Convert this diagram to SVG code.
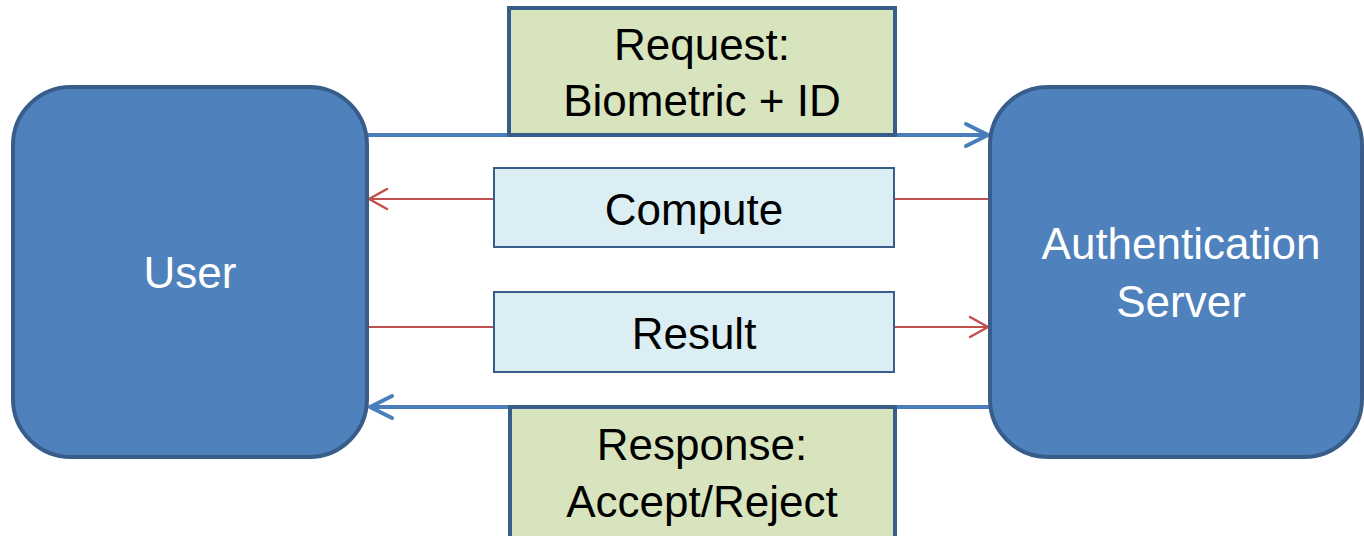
<svg xmlns="http://www.w3.org/2000/svg" width="1364" height="536" viewBox="0 0 1364 536">
  <style>
    .endpoint { fill: #4f81bd; stroke: #385d8a; stroke-width: 4; }
    .msg { fill: #d7e4bd; stroke: #385d8a; stroke-width: 4; }
    .step { fill: #dbeef4; stroke: #385d8a; stroke-width: 2; }
    .txt { font-family: "Liberation Sans", Arial, sans-serif; font-size: 44px; text-anchor: middle; fill: #000; }
    .wtxt { font-family: "Liberation Sans", Arial, sans-serif; font-size: 44px; text-anchor: middle; fill: #fff; }
    .blue { stroke: #4a7ebb; stroke-width: 4; fill: none; }
    .red { stroke: #c0504d; stroke-width: 2; fill: none; }
  </style>
  <defs>
    <marker id="headBlue" markerUnits="userSpaceOnUse" viewBox="-26 -14 30 28" refX="0" refY="0" markerWidth="30" markerHeight="28" orient="auto" overflow="visible">
      <path d="M-22,-11 L0,0 L-22,11" fill="none" stroke="#4a7ebb" stroke-width="4" stroke-linecap="round" stroke-linejoin="round"/>
    </marker>
    <marker id="headRed" markerUnits="userSpaceOnUse" viewBox="-22 -12 26 24" refX="0" refY="0" markerWidth="26" markerHeight="24" orient="auto" overflow="visible">
      <path d="M-18,-10 L0,0 L-18,10" fill="none" stroke="#c0504d" stroke-width="2.5" stroke-linecap="round" stroke-linejoin="round"/>
    </marker>
  </defs>

  <rect width="1364" height="536" fill="#fff"/>

  <!-- message lines between the two endpoints -->
  <g id="connectors">
    <line class="blue" x1="368" y1="135" x2="988" y2="135" marker-end="url(#headBlue)"/>
    <line class="red" x1="990" y1="199" x2="369" y2="199" marker-end="url(#headRed)"/>
    <line class="red" x1="367" y1="327" x2="988" y2="327" marker-end="url(#headRed)"/>
    <line class="blue" x1="990" y1="407" x2="370" y2="407" marker-end="url(#headBlue)"/>
  </g>

  <g id="user">
    <rect class="endpoint" x="13" y="87" width="354" height="370" rx="58" ry="58"/>
    <text class="wtxt" x="190" y="288">User</text>
  </g>

  <g id="server">
    <rect class="endpoint" x="990" y="87" width="372" height="370" rx="58" ry="58"/>
    <text class="wtxt" x="1181" y="259">Authentication</text>
    <text class="wtxt" x="1181" y="317">Server</text>
  </g>

  <g id="request">
    <rect class="msg" x="509" y="8" width="386" height="127"/>
    <text class="txt" x="702" y="60">Request:</text>
    <text class="txt" x="702" y="116">Biometric + ID</text>
  </g>

  <g id="compute">
    <rect class="step" x="494" y="168" width="400" height="79"/>
    <text class="txt" x="694" y="225">Compute</text>
  </g>

  <g id="result">
    <rect class="step" x="494" y="292" width="400" height="80"/>
    <text class="txt" x="694" y="349">Result</text>
  </g>

  <g id="response">
    <rect class="msg" x="510" y="407" width="385" height="134"/>
    <text class="txt" x="702" y="460">Response:</text>
    <text class="txt" x="702" y="517">Accept/Reject</text>
  </g>
</svg>
